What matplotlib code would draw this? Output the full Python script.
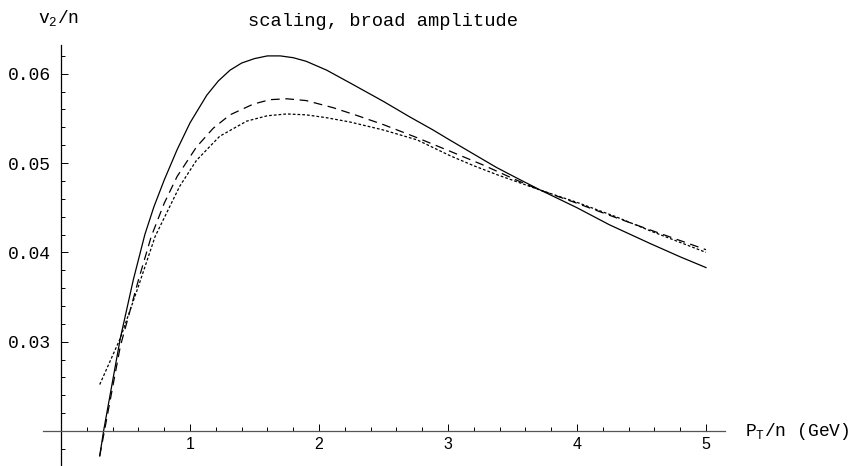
import matplotlib
matplotlib.use('Agg')
import numpy as np
import matplotlib.pyplot as plt
from matplotlib.ticker import FixedLocator

# Values
solid_x = [0.30, 0.33, 0.46, 0.56, 0.65, 0.72, 0.80, 0.90, 1.00, 1.13, 1.22,
           1.31, 1.40, 1.50, 1.60, 1.70, 1.80, 1.90, 2.06, 2.25, 2.50, 2.70,
           2.885, 3.00, 3.20, 3.377, 3.55, 3.713, 4.00, 4.25, 4.566, 4.80,
           5.00]
solid_y = [0.0172, 0.0200, 0.0304, 0.0369, 0.0420, 0.0451, 0.0481, 0.0515,
           0.0545, 0.0576, 0.0592, 0.0604, 0.0612, 0.0617, 0.0620, 0.0620,
           0.0618, 0.0614, 0.0604, 0.0589, 0.0569, 0.0552, 0.0537, 0.0527,
           0.0510, 0.0495, 0.0482, 0.0470, 0.0450, 0.0431, 0.0410, 0.0395,
           0.0383]

dashed_x = [0.30, 0.33, 0.46, 0.60, 0.70, 0.80, 0.90, 1.05, 1.18, 1.31, 1.49,
            1.62, 1.75, 1.90, 2.11, 2.30, 2.50, 2.75, 3.02, 3.27, 3.53, 3.71,
            4.00, 4.30, 4.57, 5.00]
dashed_y = [0.0172, 0.0195, 0.0295, 0.0369, 0.0418, 0.0455, 0.0485, 0.0518,
            0.0539, 0.0554, 0.0566, 0.0571, 0.0572, 0.0570, 0.0562, 0.0553,
            0.0543, 0.0529, 0.0513, 0.0498, 0.0481, 0.0470, 0.0455, 0.0439,
            0.0425, 0.0403]

dotted_x = [0.30, 0.46, 0.60, 0.73, 0.92, 1.05, 1.23, 1.44, 1.60, 1.75, 1.90,
            2.05, 2.24, 2.50, 2.76, 3.02, 3.20, 3.38, 3.71, 4.00, 4.30, 4.57,
            5.00]
dotted_y = [0.0252, 0.0304, 0.0362, 0.0418, 0.0474, 0.0503, 0.0530, 0.0547,
            0.0553, 0.0555, 0.0554, 0.0551, 0.0546, 0.0537, 0.0526, 0.0508,
            0.0497, 0.0487, 0.0470, 0.0456, 0.0440, 0.0424, 0.0400]

x_ticks = [1, 2, 3, 4, 5]
y_ticks = [0.03, 0.04, 0.05, 0.06]

plt.rcParams['mathtext.fontset'] = 'custom'
plt.rcParams['mathtext.rm'] = 'Liberation Mono'
plt.rcParams['mathtext.it'] = 'Liberation Mono'
mono = 'Liberation Mono'

fig = plt.figure(figsize=(8.56, 4.66), dpi=100)
ax = fig.add_axes([0, 0, 1, 1])
ax.set_xlim(-0.473, 6.163)
ax.set_ylim(0.01608, 0.06826)

lw = 0.9
ax.plot(solid_x, solid_y, color='black', lw=lw)
ax.plot(dashed_x, dashed_y, color='black', lw=lw, dashes=(7, 4.5))
ax.plot(dotted_x, dotted_y, color='black', lw=lw, dashes=(2.2, 1.6))

# Mathematica style axes crossing at (0, 0.02)
for s in ('top', 'right'):
  ax.spines[s].set_visible(False)
ax.spines['left'].set_position(('data', 0))
ax.spines['bottom'].set_position(('data', 0.02))
ax.spines['left'].set_bounds(0.0162, 0.0632)
ax.spines['bottom'].set_bounds(-0.14, 5.15)
ax.spines['bottom'].set_color('#555555')
for s in ('left', 'bottom'):
  ax.spines[s].set_linewidth(0.9)

ax.set_xticks(x_ticks)
ax.set_yticks(y_ticks)
ax.set_yticklabels(['%.2f' % v for v in y_ticks])
ax.xaxis.set_minor_locator(FixedLocator(np.arange(0.2, 5.01, 0.2)))
ax.yaxis.set_minor_locator(FixedLocator(np.arange(0.018, 0.0625, 0.002)))
ax.tick_params(axis='both', which='both', direction='in', width=0.7,
               color='black')
ax.tick_params(axis='both', which='major', length=5)
ax.tick_params(axis='both', which='minor', length=3)
ax.tick_params(axis='y', which='major', pad=7)
ax.tick_params(axis='x', which='major', pad=4)
for lab in ax.get_yticklabels():
  lab.set_fontfamily(mono)
  lab.set_fontsize(13)
for lab in ax.get_xticklabels():
  lab.set_fontfamily('Liberation Sans')
  lab.set_fontsize(11.5)

fig.text(383 / 856, 1 - 22 / 466, 'scaling, broad amplitude', family=mono,
         fontsize=13.5, ha='center', va='center')
fig.text(38 / 856, 1 - 18 / 466, r'v$_2$/n', family=mono, fontsize=13,
         ha='left', va='center')
fig.text(745 / 856, 1 - 432 / 466, r'P$_\mathrm{T}$/n (GeV)', family=mono,
         fontsize=13, ha='left', va='center')

fig.savefig('out.png', dpi=100)
